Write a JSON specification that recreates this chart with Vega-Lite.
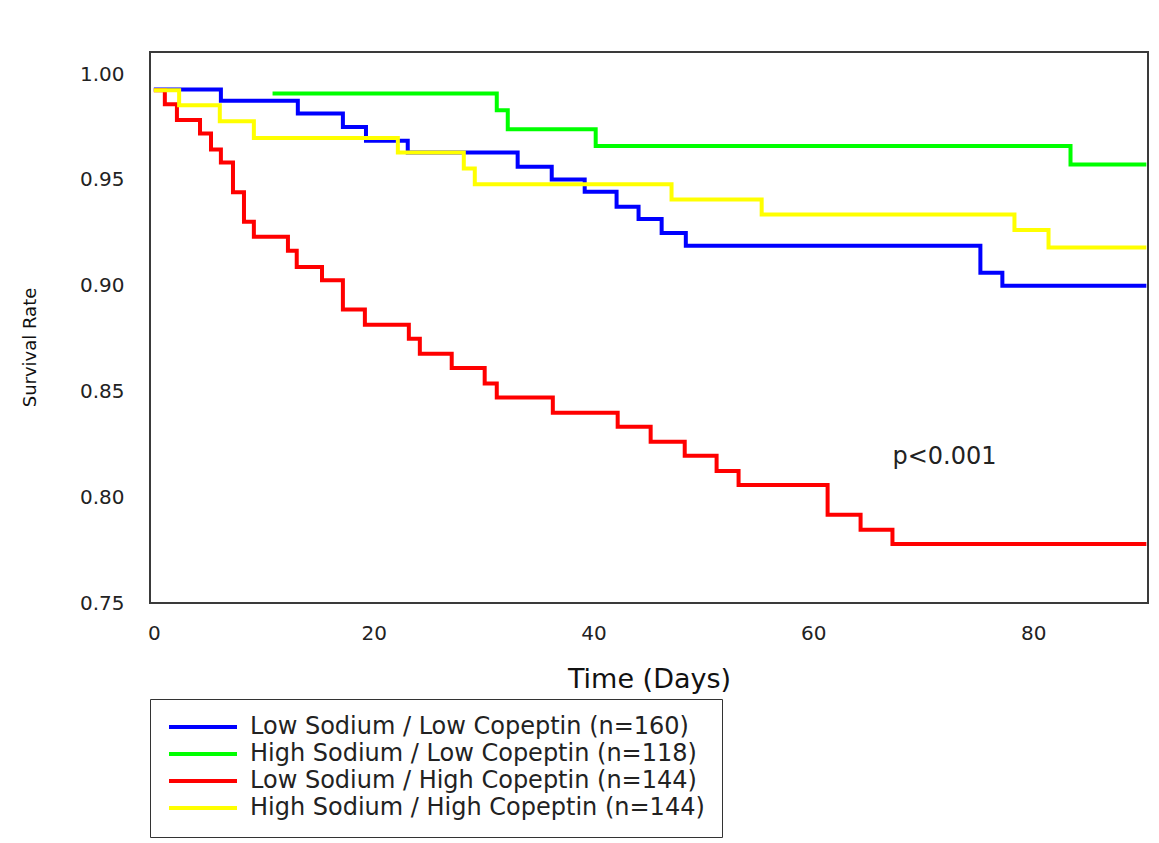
{
  "$schema": "https://vega.github.io/schema/vega-lite/v6.json",
  "width": 998,
  "height": 551,
  "autosize": {"type": "none"},
  "padding": {"left": 150, "top": 52, "right": 11, "bottom": 240},
  "background": "white",
  "config": {
    "view": {"stroke": "#3a3a3a", "strokeWidth": 2},
    "font": "DejaVu Sans"
  },
  "datasets": {
    "curves": [
      {"group": "Low Sodium / Low Copeptin (n=160)", "day": 0, "surv": 0.9928},
      {"group": "Low Sodium / Low Copeptin (n=160)", "day": 6.1, "surv": 0.9874},
      {"group": "Low Sodium / Low Copeptin (n=160)", "day": 13.1, "surv": 0.9814},
      {"group": "Low Sodium / Low Copeptin (n=160)", "day": 17.2, "surv": 0.9751},
      {"group": "Low Sodium / Low Copeptin (n=160)", "day": 19.3, "surv": 0.9685},
      {"group": "Low Sodium / Low Copeptin (n=160)", "day": 23.1, "surv": 0.963},
      {"group": "Low Sodium / Low Copeptin (n=160)", "day": 33.1, "surv": 0.9562},
      {"group": "Low Sodium / Low Copeptin (n=160)", "day": 36.2, "surv": 0.9502},
      {"group": "Low Sodium / Low Copeptin (n=160)", "day": 39.2, "surv": 0.9444},
      {"group": "Low Sodium / Low Copeptin (n=160)", "day": 42.1, "surv": 0.9373},
      {"group": "Low Sodium / Low Copeptin (n=160)", "day": 44.1, "surv": 0.9315},
      {"group": "Low Sodium / Low Copeptin (n=160)", "day": 46.2, "surv": 0.9249},
      {"group": "Low Sodium / Low Copeptin (n=160)", "day": 48.4, "surv": 0.9189},
      {"group": "Low Sodium / Low Copeptin (n=160)", "day": 75.2, "surv": 0.9061},
      {"group": "Low Sodium / Low Copeptin (n=160)", "day": 77.2, "surv": 0.9},
      {"group": "Low Sodium / Low Copeptin (n=160)", "day": 90.3, "surv": 0.9},
      {"group": "High Sodium / Low Copeptin (n=118)", "day": 10.8, "surv": 0.9909},
      {"group": "High Sodium / Low Copeptin (n=118)", "day": 31.2, "surv": 0.983},
      {"group": "High Sodium / Low Copeptin (n=118)", "day": 32.2, "surv": 0.974},
      {"group": "High Sodium / Low Copeptin (n=118)", "day": 40.2, "surv": 0.9661},
      {"group": "High Sodium / Low Copeptin (n=118)", "day": 83.4, "surv": 0.9573},
      {"group": "High Sodium / Low Copeptin (n=118)", "day": 90.3, "surv": 0.9573},
      {"group": "Low Sodium / High Copeptin (n=144)", "day": 0, "surv": 0.9924},
      {"group": "Low Sodium / High Copeptin (n=144)", "day": 1.0, "surv": 0.9858},
      {"group": "Low Sodium / High Copeptin (n=144)", "day": 2.1, "surv": 0.9783},
      {"group": "Low Sodium / High Copeptin (n=144)", "day": 4.2, "surv": 0.972},
      {"group": "Low Sodium / High Copeptin (n=144)", "day": 5.2, "surv": 0.9644},
      {"group": "Low Sodium / High Copeptin (n=144)", "day": 6.1, "surv": 0.9582},
      {"group": "Low Sodium / High Copeptin (n=144)", "day": 7.2, "surv": 0.9442},
      {"group": "Low Sodium / High Copeptin (n=144)", "day": 8.2, "surv": 0.9302},
      {"group": "Low Sodium / High Copeptin (n=144)", "day": 9.1, "surv": 0.9231},
      {"group": "Low Sodium / High Copeptin (n=144)", "day": 12.2, "surv": 0.9165},
      {"group": "Low Sodium / High Copeptin (n=144)", "day": 13.0, "surv": 0.9089},
      {"group": "Low Sodium / High Copeptin (n=144)", "day": 15.3, "surv": 0.9026},
      {"group": "Low Sodium / High Copeptin (n=144)", "day": 17.2, "surv": 0.8888},
      {"group": "Low Sodium / High Copeptin (n=144)", "day": 19.2, "surv": 0.8816},
      {"group": "Low Sodium / High Copeptin (n=144)", "day": 23.2, "surv": 0.8749},
      {"group": "Low Sodium / High Copeptin (n=144)", "day": 24.2, "surv": 0.8678},
      {"group": "Low Sodium / High Copeptin (n=144)", "day": 27.1, "surv": 0.8611},
      {"group": "Low Sodium / High Copeptin (n=144)", "day": 30.1, "surv": 0.8538},
      {"group": "Low Sodium / High Copeptin (n=144)", "day": 31.2, "surv": 0.8472},
      {"group": "Low Sodium / High Copeptin (n=144)", "day": 36.3, "surv": 0.8399},
      {"group": "Low Sodium / High Copeptin (n=144)", "day": 42.2, "surv": 0.8333},
      {"group": "Low Sodium / High Copeptin (n=144)", "day": 45.2, "surv": 0.8262},
      {"group": "Low Sodium / High Copeptin (n=144)", "day": 48.3, "surv": 0.8196},
      {"group": "Low Sodium / High Copeptin (n=144)", "day": 51.2, "surv": 0.8124},
      {"group": "Low Sodium / High Copeptin (n=144)", "day": 53.2, "surv": 0.8058},
      {"group": "Low Sodium / High Copeptin (n=144)", "day": 61.3, "surv": 0.7917},
      {"group": "Low Sodium / High Copeptin (n=144)", "day": 64.3, "surv": 0.7846},
      {"group": "Low Sodium / High Copeptin (n=144)", "day": 67.2, "surv": 0.7779},
      {"group": "Low Sodium / High Copeptin (n=144)", "day": 90.3, "surv": 0.7779},
      {"group": "High Sodium / High Copeptin (n=144)", "day": 0, "surv": 0.9924},
      {"group": "High Sodium / High Copeptin (n=144)", "day": 2.3, "surv": 0.9853},
      {"group": "High Sodium / High Copeptin (n=144)", "day": 6.0, "surv": 0.9778},
      {"group": "High Sodium / High Copeptin (n=144)", "day": 9.1, "surv": 0.9699},
      {"group": "High Sodium / High Copeptin (n=144)", "day": 22.2, "surv": 0.963},
      {"group": "High Sodium / High Copeptin (n=144)", "day": 28.2, "surv": 0.9554},
      {"group": "High Sodium / High Copeptin (n=144)", "day": 29.2, "surv": 0.948},
      {"group": "High Sodium / High Copeptin (n=144)", "day": 47.1, "surv": 0.9408},
      {"group": "High Sodium / High Copeptin (n=144)", "day": 55.3, "surv": 0.9337},
      {"group": "High Sodium / High Copeptin (n=144)", "day": 78.3, "surv": 0.9263},
      {"group": "High Sodium / High Copeptin (n=144)", "day": 81.4, "surv": 0.9181},
      {"group": "High Sodium / High Copeptin (n=144)", "day": 90.3, "surv": 0.9181}
    ],
    "note": [
      {"day": 67.2, "surv": 0.819, "label": "p<0.001"}
    ]
  },
  "layer": [
    {
      "data": {"name": "curves"},
      "mark": {"type": "line", "interpolate": "step-after", "strokeWidth": 4, "clip": true},
      "encoding": {
        "x": {
          "field": "day",
          "type": "quantitative",
          "scale": {"domain": [-0.35, 90.45], "nice": false, "zero": false},
          "axis": {
            "values": [0, 20, 40, 60, 80],
            "title": "Time (Days)",
            "grid": false,
            "ticks": false,
            "domain": false,
            "labelFontSize": 20,
            "labelPadding": 20,
            "labelColor": "#222",
            "titleFontSize": 27,
            "titleFontWeight": "normal",
            "titleColor": "#111",
            "titlePadding": 23
          }
        },
        "y": {
          "field": "surv",
          "type": "quantitative",
          "scale": {"domain": [0.75, 1.0105], "nice": false, "zero": false},
          "axis": {
            "values": [0.75, 0.8, 0.85, 0.9, 0.95, 1.0],
            "format": ".2f",
            "title": "Survival Rate",
            "grid": false,
            "ticks": false,
            "domain": false,
            "labelFontSize": 20,
            "labelPadding": 26,
            "labelColor": "#222",
            "titleFontSize": 18,
            "titleFontWeight": "normal",
            "titleColor": "#111",
            "titlePadding": 40,
            "titleY": 295
          }
        },
        "color": {
          "field": "group",
          "type": "nominal",
          "scale": {
            "domain": [
              "Low Sodium / Low Copeptin (n=160)",
              "High Sodium / Low Copeptin (n=118)",
              "Low Sodium / High Copeptin (n=144)",
              "High Sodium / High Copeptin (n=144)"
            ],
            "range": ["#0000FF", "#00FF00", "#FF0000", "#FFFF00"]
          },
          "legend": {
            "title": null,
            "orient": "none",
            "legendX": 0,
            "legendY": 647,
            "symbolType": "stroke",
            "symbolSize": 4624,
            "symbolStrokeWidth": 4,
            "clipHeight": 22,
            "labelFontSize": 24,
            "labelOffset": 11,
            "labelColor": "#222",
            "labelLimit": 0,
            "padding": 17,
            "rowPadding": 3,
            "strokeColor": "#333"
          }
        }
      }
    },
    {
      "data": {"name": "note"},
      "mark": {"type": "text", "align": "left", "baseline": "middle", "fontSize": 24, "color": "#222"},
      "encoding": {
        "x": {"field": "day", "type": "quantitative"},
        "y": {"field": "surv", "type": "quantitative"},
        "text": {"field": "label"}
      }
    }
  ]
}
